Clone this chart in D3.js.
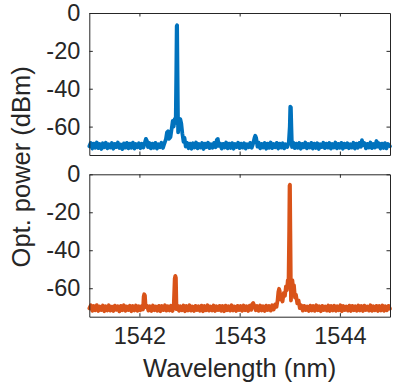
<!DOCTYPE html>
<html>
<head>
<meta charset="utf-8">
<script src="https://cdn.jsdelivr.net/npm/d3@7"></script>
<style>
  html, body { margin: 0; padding: 0; background: #fff; }
  svg { display: block; }
</style>
</head>
<body>
<svg id="chart" width="401" height="386"></svg>
<script>
// ---- Data ----
const xTicks = [1542, 1543, 1544];
const yTicks = [0, -20, -40, -60];
const xDomain = [1541.5, 1544.5];
const yDomain = [-75, 0];
const xLabel = "Wavelength (nm)";
const yLabel = "Opt. power (dBm)";

// Top panel spectrum: [wavelength (nm), power (dBm)]
const blueSpectrum = [
  [1541.500,-70.4],[1541.515,-68.6],[1541.530,-71.6],[1541.545,-69.0],[1541.560,-71.2],
  [1541.575,-68.4],[1541.590,-71.4],[1541.605,-69.2],[1541.620,-71.8],[1541.635,-68.8],
  [1541.650,-70.9],[1541.665,-68.5],[1541.680,-71.5],[1541.695,-69.3],[1541.710,-71.0],
  [1541.725,-68.7],[1541.740,-71.7],[1541.755,-69.1],[1541.770,-70.8],[1541.785,-68.4],
  [1541.800,-71.3],[1541.815,-69.4],[1541.830,-71.9],[1541.845,-68.9],[1541.860,-71.1],
  [1541.875,-68.6],[1541.890,-71.5],[1541.905,-69.0],[1541.920,-71.2],[1541.935,-68.5],
  [1541.950,-71.6],[1541.965,-69.2],[1541.980,-70.9],[1541.995,-68.8],[1542.010,-71.4],
  [1542.025,-69.1],[1542.040,-71.0],[1542.055,-68.3],[1542.065,-66.5],[1542.075,-67.5],
  [1542.085,-70.8],[1542.100,-68.7],[1542.115,-71.5],[1542.130,-69.0],[1542.145,-71.2],
  [1542.160,-68.6],[1542.175,-71.6],[1542.190,-69.3],[1542.205,-70.9],[1542.220,-68.5],
  [1542.235,-71.3],[1542.250,-68.8],[1542.265,-66.5],[1542.275,-63.0],[1542.285,-62.5],
  [1542.295,-66.5],[1542.310,-65.5],[1542.322,-61.0],[1542.332,-57.0],[1542.342,-60.0],
  [1542.352,-56.0],[1542.362,-58.0],[1542.368,-30.0],[1542.372,-7.0],[1542.376,-6.5],
  [1542.380,-30.0],[1542.386,-63.0],[1542.392,-57.0],[1542.400,-59.5],[1542.408,-56.0],
  [1542.418,-58.5],[1542.428,-63.5],[1542.440,-68.0],[1542.450,-66.0],[1542.462,-70.5],
  [1542.475,-68.6],[1542.490,-71.4],[1542.505,-69.0],[1542.520,-71.7],[1542.535,-68.8],
  [1542.550,-71.0],[1542.565,-68.4],[1542.580,-71.5],[1542.595,-69.2],[1542.610,-71.1],
  [1542.625,-68.7],[1542.640,-71.8],[1542.655,-69.0],[1542.670,-70.8],[1542.685,-68.5],
  [1542.700,-71.4],[1542.715,-69.3],[1542.730,-71.2],[1542.745,-68.6],[1542.760,-70.9],
  [1542.772,-67.0],[1542.782,-66.5],[1542.792,-70.2],[1542.805,-68.9],[1542.820,-71.6],
  [1542.835,-69.1],[1542.850,-71.0],[1542.865,-68.4],[1542.880,-71.5],[1542.895,-69.0],
  [1542.910,-71.3],[1542.925,-68.7],[1542.940,-71.7],[1542.955,-69.2],[1542.970,-70.8],
  [1542.985,-68.5],[1543.000,-71.4],[1543.015,-69.0],[1543.030,-71.1],[1543.045,-68.8],
  [1543.060,-71.6],[1543.075,-69.3],[1543.090,-70.9],[1543.105,-68.6],[1543.120,-71.2],
  [1543.135,-68.9],[1543.148,-66.0],[1543.156,-64.8],[1543.165,-66.0],[1543.178,-70.6],
  [1543.190,-68.5],[1543.205,-71.5],[1543.220,-69.1],[1543.235,-71.0],[1543.250,-68.7],
  [1543.265,-71.7],[1543.280,-69.0],[1543.295,-71.2],[1543.310,-68.4],[1543.325,-71.4],
  [1543.340,-69.2],[1543.355,-70.9],[1543.370,-68.6],[1543.385,-71.6],[1543.400,-69.0],
  [1543.415,-71.1],[1543.430,-68.8],[1543.445,-71.5],[1543.460,-69.3],[1543.475,-70.8],
  [1543.490,-68.6],[1543.500,-60.0],[1543.505,-49.5],[1543.511,-49.8],[1543.516,-60.0],
  [1543.522,-70.8],[1543.535,-68.5],[1543.550,-71.4],[1543.565,-69.0],[1543.580,-71.2],
  [1543.595,-68.7],[1543.610,-71.7],[1543.625,-69.1],[1543.640,-70.9],[1543.655,-68.4],
  [1543.670,-71.5],[1543.685,-69.2],[1543.700,-71.0],[1543.715,-68.6],[1543.730,-71.6],
  [1543.745,-69.0],[1543.760,-71.3],[1543.775,-68.8],[1543.790,-71.8],[1543.805,-69.3],
  [1543.820,-70.8],[1543.835,-68.5],[1543.850,-71.4],[1543.865,-69.0],[1543.880,-71.1],
  [1543.895,-68.7],[1543.910,-71.6],[1543.925,-69.2],[1543.940,-71.0],[1543.955,-68.4],
  [1543.970,-71.5],[1543.985,-69.1],[1544.000,-71.2],[1544.015,-68.6],[1544.030,-71.7],
  [1544.045,-69.0],[1544.060,-70.9],[1544.075,-68.8],[1544.090,-71.4],[1544.105,-69.3],
  [1544.120,-71.1],[1544.135,-68.5],[1544.150,-71.6],[1544.165,-69.0],[1544.180,-71.2],
  [1544.195,-68.6],[1544.210,-70.6],[1544.220,-67.2],[1544.232,-69.8],[1544.245,-68.7],
  [1544.260,-71.5],[1544.275,-69.1],[1544.290,-71.0],[1544.305,-68.4],[1544.320,-71.4],
  [1544.335,-69.2],[1544.350,-71.1],[1544.365,-67.6],[1544.378,-70.6],[1544.390,-68.8],
  [1544.405,-71.6],[1544.420,-69.0],[1544.435,-71.3],[1544.450,-68.7],[1544.465,-71.5],
  [1544.480,-69.2],[1544.500,-70.4]
];

// Bottom panel spectrum: [wavelength (nm), power (dBm)]
const orangeSpectrum = [
  [1541.500,-70.6],[1541.515,-69.0],[1541.530,-71.9],[1541.545,-69.4],[1541.560,-71.6],
  [1541.575,-68.9],[1541.590,-72.0],[1541.605,-69.6],[1541.620,-71.5],[1541.635,-69.1],
  [1541.650,-72.1],[1541.665,-69.5],[1541.680,-71.7],[1541.695,-69.0],[1541.710,-71.8],
  [1541.725,-69.7],[1541.740,-72.0],[1541.755,-69.2],[1541.770,-71.4],[1541.785,-69.5],
  [1541.800,-72.2],[1541.815,-69.3],[1541.830,-71.6],[1541.845,-69.0],[1541.860,-71.9],
  [1541.875,-69.6],[1541.890,-71.5],[1541.905,-69.2],[1541.920,-72.1],[1541.935,-69.4],
  [1541.950,-71.7],[1541.965,-69.1],[1541.980,-71.9],[1541.995,-69.5],[1542.010,-71.6],
  [1542.025,-69.3],[1542.036,-71.2],[1542.042,-64.5],[1542.048,-63.2],[1542.055,-63.8],
  [1542.062,-70.0],[1542.075,-69.2],[1542.090,-71.8],[1542.105,-69.5],[1542.120,-72.0],
  [1542.135,-69.1],[1542.150,-71.6],[1542.165,-69.6],[1542.180,-71.9],[1542.195,-69.3],
  [1542.210,-72.1],[1542.225,-69.4],[1542.240,-71.5],[1542.255,-69.0],[1542.270,-71.8],
  [1542.285,-69.5],[1542.300,-71.7],[1542.315,-69.2],[1542.330,-72.0],[1542.342,-69.6],
  [1542.352,-55.0],[1542.358,-53.5],[1542.364,-54.5],[1542.370,-71.0],[1542.382,-69.3],
  [1542.395,-71.9],[1542.410,-69.5],[1542.425,-71.6],[1542.440,-69.1],[1542.455,-72.1],
  [1542.470,-69.4],[1542.485,-71.7],[1542.500,-69.0],[1542.515,-71.8],[1542.530,-69.6],
  [1542.545,-72.0],[1542.560,-69.3],[1542.575,-71.5],[1542.590,-69.5],[1542.605,-71.9],
  [1542.620,-69.2],[1542.635,-72.1],[1542.650,-69.4],[1542.665,-71.6],[1542.680,-69.0],
  [1542.695,-71.8],[1542.710,-69.6],[1542.725,-71.7],[1542.740,-69.1],[1542.755,-72.0],
  [1542.770,-69.5],[1542.785,-71.5],[1542.800,-69.3],[1542.815,-71.9],[1542.830,-69.4],
  [1542.845,-72.1],[1542.860,-69.2],[1542.875,-71.6],[1542.890,-69.5],[1542.905,-71.8],
  [1542.920,-69.0],[1542.935,-71.7],[1542.950,-69.6],[1542.965,-72.0],[1542.980,-69.3],
  [1542.995,-71.5],[1543.010,-69.4],[1543.025,-71.9],[1543.040,-69.1],[1543.055,-71.6],
  [1543.070,-69.5],[1543.085,-72.0],[1543.100,-69.2],[1543.115,-71.4],[1543.125,-68.4],
  [1543.135,-67.8],[1543.145,-69.0],[1543.160,-71.6],[1543.175,-69.4],[1543.190,-71.9],
  [1543.205,-69.1],[1543.220,-71.7],[1543.235,-69.5],[1543.250,-72.0],[1543.265,-69.2],
  [1543.280,-71.5],[1543.295,-69.4],[1543.310,-71.8],[1543.325,-69.0],[1543.340,-71.2],
  [1543.355,-68.5],[1543.368,-69.8],[1543.378,-66.5],[1543.386,-62.0],[1543.393,-60.3],
  [1543.400,-61.5],[1543.408,-66.0],[1543.418,-64.5],[1543.428,-67.0],[1543.440,-62.5],
  [1543.452,-64.0],[1543.462,-59.0],[1543.472,-61.0],[1543.480,-55.8],[1543.488,-55.5],
  [1543.494,-30.0],[1543.498,-6.0],[1543.502,-5.5],[1543.506,-30.0],[1543.512,-66.5],
  [1543.518,-57.0],[1543.526,-55.8],[1543.534,-60.0],[1543.542,-58.5],[1543.552,-65.0],
  [1543.562,-63.5],[1543.575,-68.0],[1543.588,-66.5],[1543.600,-70.5],[1543.615,-69.0],
  [1543.630,-71.8],[1543.645,-69.3],[1543.660,-71.5],[1543.675,-69.6],[1543.690,-72.0],
  [1543.705,-69.2],[1543.720,-71.7],[1543.735,-69.4],[1543.750,-71.9],[1543.765,-69.0],
  [1543.780,-71.6],[1543.795,-69.5],[1543.810,-72.1],[1543.825,-69.3],[1543.840,-71.5],
  [1543.855,-69.6],[1543.870,-71.8],[1543.885,-69.1],[1543.900,-72.0],[1543.915,-69.4],
  [1543.930,-71.7],[1543.945,-69.2],[1543.960,-71.9],[1543.975,-69.5],[1543.990,-71.6],
  [1544.005,-69.0],[1544.020,-72.1],[1544.035,-69.4],[1544.050,-71.5],[1544.065,-69.6],
  [1544.080,-71.8],[1544.095,-69.2],[1544.110,-72.0],[1544.125,-69.3],[1544.140,-71.6],
  [1544.155,-69.5],[1544.170,-71.9],[1544.185,-69.1],[1544.200,-71.7],[1544.215,-69.4],
  [1544.230,-72.0],[1544.245,-69.2],[1544.260,-71.5],[1544.275,-69.6],[1544.290,-71.8],
  [1544.305,-69.0],[1544.320,-71.9],[1544.335,-69.5],[1544.350,-71.6],[1544.365,-69.3],
  [1544.380,-72.0],[1544.395,-69.4],[1544.410,-71.7],[1544.425,-69.1],[1544.440,-71.9],
  [1544.455,-69.5],[1544.470,-71.6],[1544.485,-69.3],[1544.500,-70.8]
];

const seriesColors = ["#0072BD", "#D95319"];

// ---- Layout ----
const svg = d3.select("#chart");
const axisColor = "#262626";
const fontFamily = "'Liberation Sans', Arial, Helvetica, sans-serif";
const tickFont = 23.5;
const labelFont = 25.5;
const left = 89.3, right = 390;
const panels = [
  { data: blueSpectrum, color: seriesColors[0], top: 13, bottom: 155, showX: false },
  { data: orangeSpectrum, color: seriesColors[1], top: 174.3, bottom: 316.7, showX: true }
];

const x = d3.scaleLinear().domain(xDomain).range([left, right]);
const fmt = d => String(d);

function styleAxis(g) {
  g.selectAll("path.domain").attr("stroke", axisColor).attr("stroke-width", 1);
  g.selectAll(".tick line").attr("stroke", axisColor).attr("stroke-width", 1);
  g.selectAll(".tick text")
    .attr("fill", axisColor)
    .style("font-family", fontFamily)
    .style("font-size", tickFont + "px");
}

panels.forEach(p => {
  const y = d3.scaleLinear().domain(yDomain).range([p.bottom, p.top]);

  // spectrum line
  const line = d3.line().x(d => x(d[0])).y(d => y(d[1]));
  svg.append("path")
    .datum(p.data)
    .attr("d", line)
    .attr("fill", "none")
    .attr("stroke", p.color)
    .attr("stroke-width", 3.8)
    .attr("stroke-linejoin", "round")
    .attr("stroke-linecap", "round");

  // axes (box with inward ticks)
  const gl = svg.append("g").attr("transform", `translate(${left},0)`)
    .call(d3.axisLeft(y).tickValues(yTicks).tickFormat(fmt).tickSizeInner(-3.5).tickSizeOuter(0).tickPadding(9));
  styleAxis(gl);
  const gr = svg.append("g").attr("transform", `translate(${right},0)`)
    .call(d3.axisRight(y).tickValues(yTicks).tickFormat("").tickSizeInner(-3.5).tickSizeOuter(0));
  styleAxis(gr);
  const gb = svg.append("g").attr("transform", `translate(0,${p.bottom})`)
    .call(d3.axisBottom(x).tickValues(xTicks).tickFormat(p.showX ? fmt : "").tickSizeInner(-3.5).tickSizeOuter(0).tickPadding(11));
  styleAxis(gb);
  const gt = svg.append("g").attr("transform", `translate(0,${p.top})`)
    .call(d3.axisTop(x).tickValues(xTicks).tickFormat("").tickSizeInner(-3.5).tickSizeOuter(0));
  styleAxis(gt);
});

// axis labels
svg.append("text")
  .attr("x", (left + right) / 2)
  .attr("y", 377)
  .attr("text-anchor", "middle")
  .attr("fill", axisColor)
  .style("font-family", fontFamily)
  .style("font-size", labelFont + "px")
  .text(xLabel);

svg.append("text")
  .attr("transform", `translate(29.5,${(panels[0].top + panels[1].bottom) / 2 + 2}) rotate(-90)`)
  .attr("text-anchor", "middle")
  .attr("fill", axisColor)
  .style("font-family", fontFamily)
  .style("font-size", labelFont + "px")
  .text(yLabel);
</script>
</body>
</html>
